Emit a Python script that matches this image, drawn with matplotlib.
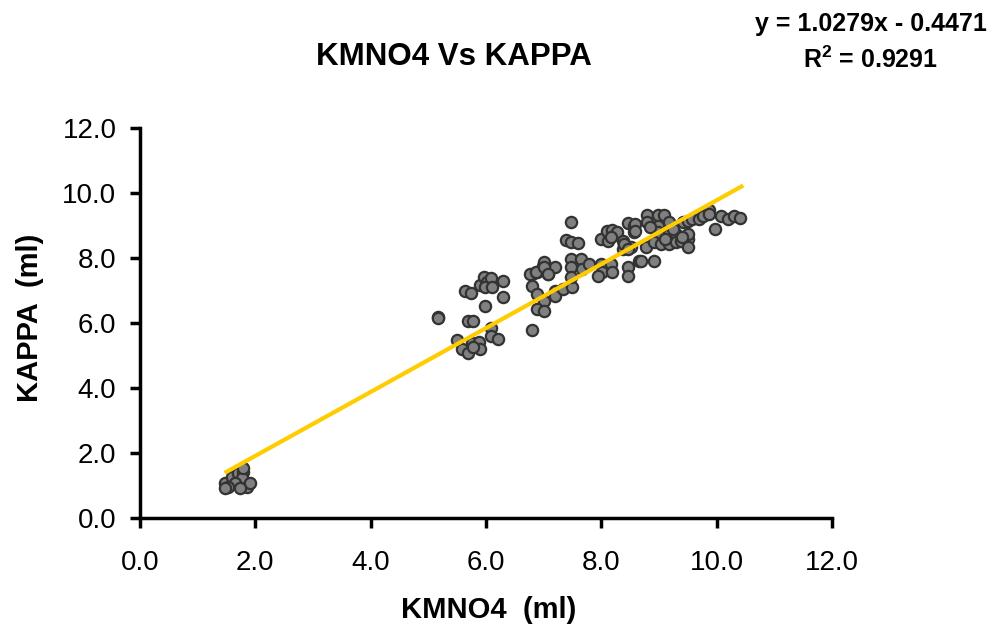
import matplotlib
matplotlib.use("Agg")
import matplotlib.pyplot as plt

plt.rcParams['font.family'] = ['Liberation Sans', 'DejaVu Sans']
plt.rcParams['mathtext.fontset'] = 'custom'
plt.rcParams['mathtext.rm'] = 'Liberation Sans'
plt.rcParams['mathtext.bf'] = 'Liberation Sans:bold'

# KMNO4 (x) and KAPPA (y) readings
kmno4 = [
    1.48, 1.60, 1.70, 1.79, 1.77, 1.65, 1.53, 1.86, 1.91, 1.74, 1.47, 1.79,
    5.16, 5.16, 5.68, 5.78, 5.63, 5.74, 5.90, 5.96, 6.02, 6.08, 5.99, 6.11,
    6.30, 5.99, 6.30, 5.50, 5.59, 5.68, 5.76, 5.87, 5.90, 5.78, 6.08, 6.08,
    6.20, 6.79,
    6.80, 6.89, 6.98, 7.00, 7.07, 7.20, 6.80, 6.89, 7.00, 6.89, 7.00, 7.20,
    7.20, 6.77, 6.86, 7.00, 7.08,
    7.47, 7.38, 7.47, 7.60, 7.99, 8.09, 8.18, 8.28, 8.11, 8.47, 8.56, 8.56,
    8.37, 8.37, 8.51, 7.34, 7.50, 7.47, 7.47, 7.47, 7.64, 7.67, 7.78, 7.99,
    8.02, 8.16, 8.19, 8.47, 8.47, 8.65, 7.95, 8.16,
    8.80, 8.80, 8.99, 9.08, 8.59, 8.59, 8.99, 8.99, 9.17, 9.17, 9.29, 9.41,
    9.50, 9.58, 9.69, 9.76, 9.86, 9.86, 10.07, 10.19, 10.30, 10.40, 9.97,
    8.39, 8.47, 8.77, 8.91, 9.03, 9.17, 9.29, 9.38, 9.50, 9.50, 9.50, 8.68,
    8.91, 9.10, 9.25, 8.85, 9.40,
]
kappa = [
    1.08, 1.27, 1.39, 1.42, 1.23, 1.08, 0.96, 0.96, 1.08, 0.93, 0.93, 1.54,
    6.20, 6.14, 6.05, 6.05, 6.97, 6.91, 7.16, 7.41, 7.25, 7.38, 7.10, 7.10,
    7.28, 6.51, 6.79, 5.49, 5.19, 5.09, 5.40, 5.43, 5.19, 5.25, 5.86, 5.59,
    5.52, 5.77,
    7.50, 7.56, 7.75, 7.87, 7.50, 7.72, 7.13, 6.88, 6.67, 6.42, 6.36, 6.98,
    6.82, 7.50, 7.56, 7.72, 7.50,
    9.10, 8.55, 8.49, 8.46, 8.58, 8.83, 8.86, 8.80, 8.52, 9.07, 8.98, 8.80,
    8.52, 8.27, 8.33, 7.04, 7.10, 7.96, 7.72, 7.41, 7.96, 7.65, 7.81, 7.81,
    7.56, 7.81, 7.56, 7.72, 7.44, 7.90, 7.44, 8.64,
    9.32, 9.10, 9.32, 9.32, 9.04, 8.83, 8.98, 8.80, 9.10, 8.73, 8.73, 9.10,
    9.14, 9.20, 9.20, 9.29, 9.48, 9.35, 9.29, 9.20, 9.29, 9.23, 8.89,
    8.43, 8.27, 8.33, 8.49, 8.43, 8.43, 8.49, 8.52, 8.58, 8.33, 8.73, 7.90,
    7.90, 8.60, 8.90, 8.95, 8.65,
]

# trendline end points as drawn on the chart
trend_x = [1.5, 10.43]
trend_y = [1.42, 10.2]

xticks = [0, 2, 4, 6, 8, 10, 12]
yticks = [0, 2, 4, 6, 8, 10, 12]

fig = plt.figure(figsize=(9.95, 6.33), dpi=100)
ax = fig.add_axes([140 / 995, 1 - 518 / 633, (832 - 140) / 995, (518 - 128) / 633])

ax.scatter(kmno4, kappa, s=66, c='#808080', edgecolors='#333333', linewidths=1.6, zorder=3)
ax.plot(trend_x, trend_y, color='#FFCC00', linewidth=3, zorder=4)

ax.set_xlim(0, 12)
ax.set_ylim(0, 12)
ax.set_xticks(xticks)
ax.set_yticks(yticks)
ax.set_xticklabels([f"{v:.1f}" for v in xticks])
ax.set_yticklabels([f"{v:.1f}" for v in yticks])
ax.tick_params(direction='out', length=7, width=2.5, pad=10, labelsize=20)
ax.tick_params(axis='x', pad=16)
for s in ['top', 'right']:
    ax.spines[s].set_visible(False)
for s in ['left', 'bottom']:
    ax.spines[s].set_linewidth(2.5)

fig.text(454 / 995, 1 - 57 / 633, 'KMNO4 Vs KAPPA', fontsize=22.5, fontweight='bold',
         ha='center', va='center')
fig.text(489 / 995, 1 - 610 / 633, 'KMNO4  (ml)', fontsize=21, fontweight='bold',
         ha='center', va='center')
fig.text(30 / 995, 1 - 318 / 633, 'KAPPA  (ml)', fontsize=21, fontweight='bold',
         ha='center', va='center', rotation=90)
fig.text(871 / 995, 1 - 24 / 633, 'y = 1.0279x - 0.4471', fontsize=18, fontweight='bold',
         ha='center', va='center')
fig.text(871 / 995, 1 - 60 / 633, r'R$^\mathbf{2}$ = 0.9291', fontsize=18, fontweight='bold',
         ha='center', va='center')

fig.savefig('out.png', dpi=100)
plt.close('all')
